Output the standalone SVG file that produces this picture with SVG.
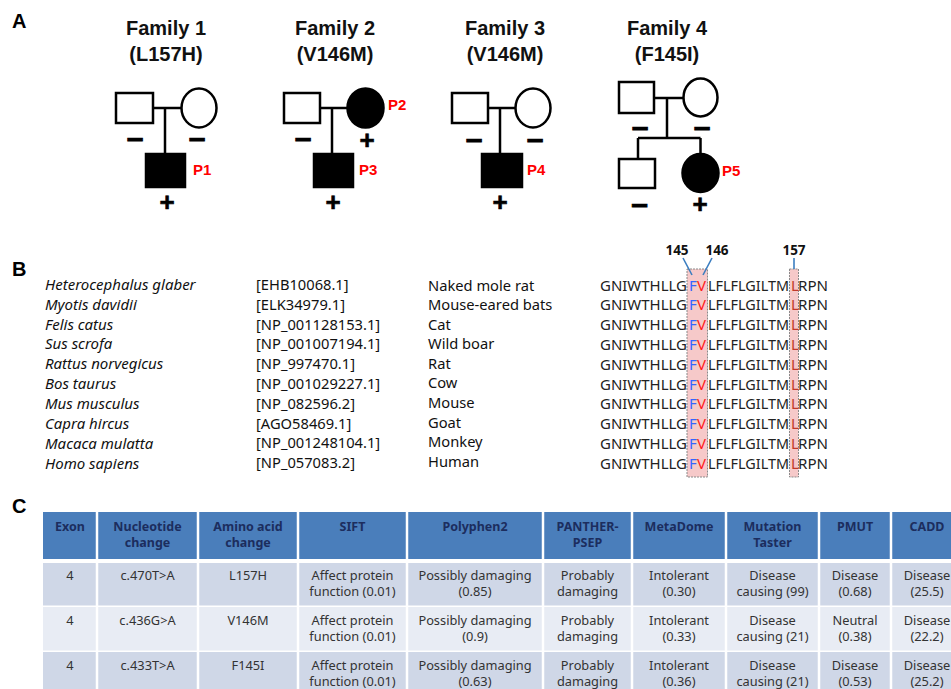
<svg xmlns="http://www.w3.org/2000/svg" width="951" height="689" viewBox="0 0 951 689">
<style>
.panel{font-family:"Liberation Sans",Arial,sans-serif;font-weight:bold;font-size:20px;fill:#000}
.ftitle{font-family:"Liberation Sans",Arial,sans-serif;font-weight:bold;font-size:20px;fill:#111;text-anchor:middle}
.ln{stroke:#000;stroke-width:2.5;fill:none}
.open{stroke:#000;stroke-width:2.5;fill:#fff}
.aff{stroke:#000;stroke-width:2.5;fill:#000}
.sign{font-family:"Liberation Sans",Arial,sans-serif;font-weight:bold;font-size:26px;fill:#000;stroke:#000;stroke-width:0.6;text-anchor:middle}
.minus{font-family:"Liberation Sans",Arial,sans-serif;font-weight:bold;font-size:30px;fill:#000;stroke:#000;stroke-width:0.8;text-anchor:middle}
.pid{font-family:"Liberation Sans",Arial,sans-serif;font-weight:bold;font-size:15px;fill:#ff0000}
.sp{font-family:"Noto Sans","Open Sans",sans-serif;font-style:italic;font-size:15px;fill:#111}
.acc{font-family:"Noto Sans","Open Sans",sans-serif;font-size:14.7px;fill:#111}
.seq{font-family:"Noto Sans","Open Sans",sans-serif;font-size:15px;fill:#222}
.num{font-family:"Noto Sans","Open Sans",sans-serif;font-weight:bold;font-size:13.5px;fill:#111;text-anchor:middle}
.hl{fill:#f6c9c9;stroke:#8a8a8a;stroke-width:1;stroke-dasharray:2 1}
.bl{stroke:#3a7dc0;stroke-width:1.6;fill:none}
.th{font-family:"Noto Sans","Open Sans",sans-serif;font-weight:bold;font-size:12.5px;fill:#1c2d5e;text-anchor:middle}
.td{font-family:"Noto Sans","Open Sans",sans-serif;font-size:12.8px;fill:#333;text-anchor:middle}
.hdr{fill:#4a7ebb}
.r1{fill:#cfd7e7}
.r2{fill:#e8ecf4}
.sep{stroke:#fff;stroke-width:2.5}
</style>

<!-- Panel A -->
<text class="panel" x="12" y="28">A</text>

<g id="family1">
  <text class="ftitle" x="166" y="35">Family 1</text>
  <text class="ftitle" x="166" y="61">(L157H)</text>
  <line class="ln" x1="153" y1="108" x2="182" y2="108"/>
  <line class="ln" x1="165" y1="108" x2="165" y2="154"/>
  <rect class="open" x="116" y="93" width="37" height="30"/>
  <ellipse class="open" cx="199" cy="108" rx="17.5" ry="19.5"/>
  <rect class="aff" x="146" y="154" width="39" height="33"/>
  <text class="minus" x="135" y="147.5">–</text>
  <text class="minus" x="197" y="147.5">–</text>
  <text class="sign" x="167" y="211">+</text>
  <text class="pid" x="193" y="175">P1</text>
</g>

<g id="family2">
  <text class="ftitle" x="335" y="35">Family 2</text>
  <text class="ftitle" x="335" y="61">(V146M)</text>
  <line class="ln" x1="320" y1="108" x2="348" y2="108"/>
  <line class="ln" x1="332" y1="108" x2="332" y2="154"/>
  <rect class="open" x="284" y="93" width="36" height="30"/>
  <ellipse class="aff" cx="365.5" cy="108" rx="18" ry="19.5"/>
  <rect class="aff" x="314" y="154" width="39" height="33"/>
  <text class="minus" x="303" y="147.5">–</text>
  <text class="sign" x="367" y="149">+</text>
  <text class="sign" x="333" y="211">+</text>
  <text class="pid" x="388" y="110">P2</text>
  <text class="pid" x="359" y="175">P3</text>
</g>

<g id="family3">
  <text class="ftitle" x="505" y="35">Family 3</text>
  <text class="ftitle" x="505" y="61">(V146M)</text>
  <line class="ln" x1="488" y1="108" x2="516" y2="108"/>
  <line class="ln" x1="500" y1="108" x2="500" y2="154"/>
  <rect class="open" x="452" y="93" width="36" height="30"/>
  <ellipse class="open" cx="533" cy="108" rx="17.5" ry="19.5"/>
  <rect class="aff" x="482" y="154" width="40" height="33"/>
  <text class="minus" x="474" y="148.5">–</text>
  <text class="minus" x="535" y="148.5">–</text>
  <text class="sign" x="500" y="211">+</text>
  <text class="pid" x="527" y="175">P4</text>
</g>

<g id="family4">
  <text class="ftitle" x="667" y="35">Family 4</text>
  <text class="ftitle" x="667" y="61">(F145I)</text>
  <line class="ln" x1="654" y1="98" x2="684" y2="98"/>
  <line class="ln" x1="667" y1="98" x2="667" y2="138"/>
  <line class="ln" x1="638" y1="138" x2="700.5" y2="138"/>
  <line class="ln" x1="638" y1="138" x2="638" y2="159"/>
  <line class="ln" x1="700.5" y1="138" x2="700.5" y2="154"/>
  <rect class="open" x="619" y="82" width="35" height="31"/>
  <ellipse class="open" cx="700.5" cy="97.5" rx="17" ry="19"/>
  <rect class="open" x="619" y="159" width="36" height="29"/>
  <ellipse class="aff" cx="700.5" cy="173" rx="18" ry="19"/>
  <text class="minus" x="640" y="136.5">–</text>
  <text class="minus" x="702" y="136.5">–</text>
  <text class="minus" x="639.5" y="213.5">–</text>
  <text class="sign" x="700" y="213">+</text>
  <text class="pid" x="722" y="176">P5</text>
</g>

<!-- Panel B -->
<text class="panel" x="12" y="276">B</text>

<g id="alignment-highlights">
  <rect class="hl" x="687" y="269" width="20.5" height="208"/>
  <rect class="hl" x="789.5" y="269" width="9" height="208"/>
</g>

<g id="position-labels">
  <text class="num" x="677" y="255">145</text>
  <text class="num" x="717" y="255">146</text>
  <text class="num" x="794" y="255">157</text>
</g>

<g id="connectors">
  <line class="bl" x1="683" y1="258" x2="692" y2="275"/>
  <line class="bl" x1="712" y1="258" x2="703" y2="275"/>
  <line class="bl" x1="794" y1="258" x2="794" y2="269"/>
</g>

<g id="species">
  <text class="sp" x="45" y="290">Heterocephalus glaber</text>
  <text class="sp" x="45" y="310">Myotis davidii</text>
  <text class="sp" x="45" y="330">Felis catus</text>
  <text class="sp" x="45" y="349">Sus scrofa</text>
  <text class="sp" x="45" y="369">Rattus norvegicus</text>
  <text class="sp" x="45" y="389">Bos taurus</text>
  <text class="sp" x="45" y="409">Mus musculus</text>
  <text class="sp" x="45" y="429">Capra hircus</text>
  <text class="sp" x="45" y="449">Macaca mulatta</text>
  <text class="sp" x="45" y="469">Homo sapiens</text>
</g>

<g id="accessions">
  <text class="acc" x="256" y="290">[EHB10068.1]</text>
  <text class="acc" x="256" y="310">[ELK34979.1]</text>
  <text class="acc" x="256" y="330">[NP_001128153.1]</text>
  <text class="acc" x="256" y="349">[NP_001007194.1]</text>
  <text class="acc" x="256" y="369">[NP_997470.1]</text>
  <text class="acc" x="256" y="389">[NP_001029227.1]</text>
  <text class="acc" x="256" y="409">[NP_082596.2]</text>
  <text class="acc" x="256" y="429">[AGO58469.1]</text>
  <text class="acc" x="256" y="448">[NP_001248104.1]</text>
  <text class="acc" x="256" y="468">[NP_057083.2]</text>
</g>

<g id="common-names">
  <text class="acc" x="428" y="291">Naked mole rat</text>
  <text class="acc" x="428" y="310">Mouse-eared bats</text>
  <text class="acc" x="428" y="330">Cat</text>
  <text class="acc" x="428" y="349">Wild boar</text>
  <text class="acc" x="428" y="369">Rat</text>
  <text class="acc" x="428" y="388">Cow</text>
  <text class="acc" x="428" y="408">Mouse</text>
  <text class="acc" x="428" y="428">Goat</text>
  <text class="acc" x="428" y="447">Monkey</text>
  <text class="acc" x="428" y="467">Human</text>
</g>

<defs>
  <g id="seqrow">
    <text class="seq"><tspan x="600" textLength="87" lengthAdjust="spacingAndGlyphs">GNIWTHLLG</tspan></text>
    <text class="seq" x="689" style="fill:#3366ff">F</text>
    <text class="seq" x="697" style="fill:#ff1a1a">V</text>
    <text class="seq"><tspan x="708" textLength="81" lengthAdjust="spacingAndGlyphs">LFLFLGILTM</tspan></text>
    <text class="seq" x="791" style="fill:#c0392b">L</text>
    <text class="seq"><tspan x="798" textLength="30" lengthAdjust="spacingAndGlyphs">RPN</tspan></text>
  </g>
</defs>

<g id="sequences">
  <use href="#seqrow" y="290.5"/>
  <use href="#seqrow" y="310.3"/>
  <use href="#seqrow" y="330.1"/>
  <use href="#seqrow" y="349.9"/>
  <use href="#seqrow" y="369.7"/>
  <use href="#seqrow" y="389.5"/>
  <use href="#seqrow" y="409.3"/>
  <use href="#seqrow" y="429.1"/>
  <use href="#seqrow" y="448.9"/>
  <use href="#seqrow" y="468.7"/>
</g>

<!-- Panel C -->
<text class="panel" x="12" y="513">C</text>

<g id="table">
  <rect class="hdr" x="43" y="512" width="920" height="47"/>
  <rect class="r1" x="43" y="563" width="920" height="42.5"/>
  <rect class="r2" x="43" y="607" width="920" height="43.5"/>
  <rect class="r1" x="43" y="652" width="920" height="40"/>
  <g class="sep">
    <line x1="97" y1="510" x2="97" y2="689"/>
    <line x1="198" y1="510" x2="198" y2="689"/>
    <line x1="298" y1="510" x2="298" y2="689"/>
    <line x1="407" y1="510" x2="407" y2="689"/>
    <line x1="543" y1="510" x2="543" y2="689"/>
    <line x1="632" y1="510" x2="632" y2="689"/>
    <line x1="726" y1="510" x2="726" y2="689"/>
    <line x1="819" y1="510" x2="819" y2="689"/>
    <line x1="891" y1="510" x2="891" y2="689"/>
  </g>

  <g id="header">
    <text class="th" x="70" y="531">Exon</text>
    <text class="th" y="531"><tspan x="147.5">Nucleotide</tspan><tspan x="147.5" dy="16">change</tspan></text>
    <text class="th" y="531"><tspan x="248">Amino acid</tspan><tspan x="248" dy="16">change</tspan></text>
    <text class="th" x="352.5" y="531">SIFT</text>
    <text class="th" x="475" y="531">Polyphen2</text>
    <text class="th" y="531"><tspan x="587.5">PANTHER-</tspan><tspan x="587.5" dy="16">PSEP</tspan></text>
    <text class="th" x="679" y="531">MetaDome</text>
    <text class="th" y="531"><tspan x="772.5">Mutation</tspan><tspan x="772.5" dy="16">Taster</tspan></text>
    <text class="th" x="855" y="531">PMUT</text>
    <text class="th" x="927" y="531">CADD</text>
  </g>

  <g id="row1">
    <text class="td" x="70" y="580">4</text>
    <text class="td" x="147.5" y="580">c.470T&gt;A</text>
    <text class="td" x="248" y="580">L157H</text>
    <text class="td" y="580"><tspan x="352.5">Affect protein</tspan><tspan x="352.5" dy="16">function (0.01)</tspan></text>
    <text class="td" y="580"><tspan x="475">Possibly damaging</tspan><tspan x="475" dy="16">(0.85)</tspan></text>
    <text class="td" y="580"><tspan x="587.5">Probably</tspan><tspan x="587.5" dy="16">damaging</tspan></text>
    <text class="td" y="580"><tspan x="679">Intolerant</tspan><tspan x="679" dy="16">(0.30)</tspan></text>
    <text class="td" y="580"><tspan x="772.5">Disease</tspan><tspan x="772.5" dy="16">causing (99)</tspan></text>
    <text class="td" y="580"><tspan x="855">Disease</tspan><tspan x="855" dy="16">(0.68)</tspan></text>
    <text class="td" y="580"><tspan x="927">Disease</tspan><tspan x="927" dy="16">(25.5)</tspan></text>
  </g>

  <g id="row2">
    <text class="td" x="70" y="625">4</text>
    <text class="td" x="147.5" y="625">c.436G&gt;A</text>
    <text class="td" x="248" y="625">V146M</text>
    <text class="td" y="625"><tspan x="352.5">Affect protein</tspan><tspan x="352.5" dy="16">function (0.01)</tspan></text>
    <text class="td" y="625"><tspan x="475">Possibly damaging</tspan><tspan x="475" dy="16">(0.9)</tspan></text>
    <text class="td" y="625"><tspan x="587.5">Probably</tspan><tspan x="587.5" dy="16">damaging</tspan></text>
    <text class="td" y="625"><tspan x="679">Intolerant</tspan><tspan x="679" dy="16">(0.33)</tspan></text>
    <text class="td" y="625"><tspan x="772.5">Disease</tspan><tspan x="772.5" dy="16">causing (21)</tspan></text>
    <text class="td" y="625"><tspan x="855">Neutral</tspan><tspan x="855" dy="16">(0.38)</tspan></text>
    <text class="td" y="625"><tspan x="927">Disease</tspan><tspan x="927" dy="16">(22.2)</tspan></text>
  </g>

  <g id="row3">
    <text class="td" x="70" y="670">4</text>
    <text class="td" x="147.5" y="670">c.433T&gt;A</text>
    <text class="td" x="248" y="670">F145I</text>
    <text class="td" y="670"><tspan x="352.5">Affect protein</tspan><tspan x="352.5" dy="16">function (0.01)</tspan></text>
    <text class="td" y="670"><tspan x="475">Possibly damaging</tspan><tspan x="475" dy="16">(0.63)</tspan></text>
    <text class="td" y="670"><tspan x="587.5">Probably</tspan><tspan x="587.5" dy="16">damaging</tspan></text>
    <text class="td" y="670"><tspan x="679">Intolerant</tspan><tspan x="679" dy="16">(0.36)</tspan></text>
    <text class="td" y="670"><tspan x="772.5">Disease</tspan><tspan x="772.5" dy="16">causing (21)</tspan></text>
    <text class="td" y="670"><tspan x="855">Disease</tspan><tspan x="855" dy="16">(0.53)</tspan></text>
    <text class="td" y="670"><tspan x="927">Disease</tspan><tspan x="927" dy="16">(25.2)</tspan></text>
  </g>
</g>
</svg>
